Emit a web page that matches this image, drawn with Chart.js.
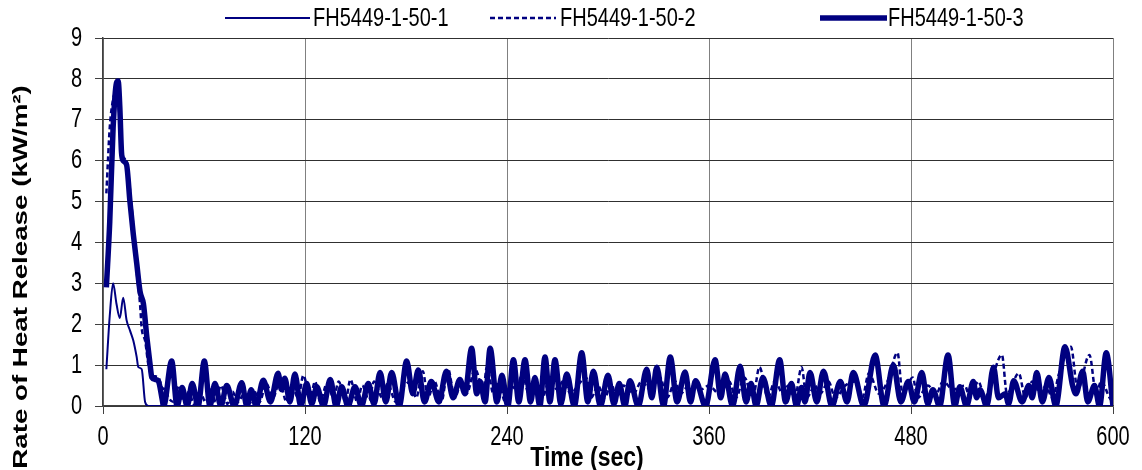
<!DOCTYPE html>
<html>
<head>
<meta charset="utf-8">
<script src="https://cdn.jsdelivr.net/npm/chart.js@4.4.0/dist/chart.umd.min.js"></script>
<style>
  html, body { margin: 0; padding: 0; background: #fff; }
  #wrap { width: 1142px; height: 470px; position: relative; }
</style>
</head>
<body>
<div id="wrap"><canvas id="rhr"></canvas></div>
<script>
// Rate of heat release vs time, three specimens
const seriesNames = ['FH5449-1-50-1', 'FH5449-1-50-2', 'FH5449-1-50-3'];
const xTicks = [0, 120, 240, 360, 480, 600];
const yTicks = [0, 1, 2, 3, 4, 5, 6, 7, 8, 9];

const times1 = [2, 4, 6, 8, 10, 12, 14, 16, 18, 20, 21, 23, 25, 27, 30, 600];
const rhr1   = [0.9, 2.2, 3.0, 2.5, 2.15, 2.65, 2.1, 1.85, 1.6, 1.2, 0.95, 0.9, 0.1, 0, 0, 0];

const times2 = [2, 4, 6, 8, 10, 12, 14, 16, 18, 20, 22, 23, 25, 27, 29, 33, 35, 37, 39,
  42, 45, 48, 51, 54, 57, 61, 64, 67, 70, 74, 77, 80, 84, 87, 90, 93, 97, 101, 105, 109,
  112, 116, 119, 123, 126, 129, 133, 137, 140, 144, 147, 151, 154, 158, 161, 166, 169, 174,
  178, 183, 186, 190, 193, 197, 201, 205, 209, 213, 216, 221, 226, 228, 232, 235, 239, 242,
  246, 249, 253, 258, 261, 265, 270, 273, 278, 282, 287, 290, 294, 298, 302, 305, 309, 315,
  320, 325, 331, 335, 340, 343, 348, 355, 360, 366, 372, 376, 381, 386, 390, 395, 399, 404,
  407, 411, 415, 418, 423, 426, 431, 435, 441, 448, 451, 455, 461, 466, 472, 475, 481, 484,
  490, 495, 499, 505, 512, 515, 520, 524, 527, 534, 537, 544, 548, 552, 557, 560, 564, 568,
  575, 579, 586, 590, 593, 598, 600];
const rhr2 = [5.2, 6.8, 7.5, 7.7, 7.0, 6.1, 6.0, 5.3, 4.4, 3.3, 2.5, 1.9, 1.6, 1.0, 0.75, 0.7, 0.45, 0.4, 0.2,
  0.1, 0.5, 0.1, 0.35, 0.05, 0.4, 0.1, 0.45, 0.1, 0.5, 0.05, 0.35, 0.1, 0.3, 0.05, 0.35, 0.1, 0.55, 0.2, 0.6, 0.1,
  0.5, 0.2, 0.75, 0.2, 0.6, 0.1, 0.55, 0.2, 0.6, 0.1, 0.65, 0.1, 0.5, 0.15, 0.6, 0.2, 0.55, 0.1,
  0.45, 0.6, 0.2, 0.85, 0.2, 0.6, 0.1, 0.9, 0.2, 0.6, 0.3, 0.9, 0.4, 0.95, 0.3, 0.55, 0.1, 0.5,
  0.4, 0.8, 0.3, 0.45, 0.2, 0.6, 0.4, 0.6, 0.3, 0.5, 0.7, 0.2, 0.5, 0.2, 0.55, 0.2, 0.5, 0.3,
  0.6, 0.4, 0.7, 0.2, 0.6, 0.3, 0.5, 0.4, 0.5, 0.3, 0.6, 0.2, 0.7, 0.2, 0.95, 0.2, 0.6, 0.3,
  0.5, 0.2, 0.95, 0.2, 0.5, 0.3, 0.6, 0.2, 0.5, 0.6, 0.2, 0.8, 0.3, 0.6, 1.3, 0.3, 0.7, 0.2,
  0.5, 0.3, 0.6, 0.4, 0.5, 0.2, 0.6, 0.2, 0.5, 1.25, 0.3, 0.8, 0.2, 0.6, 0.3, 0.5, 0.2, 0.8,
  1.45, 0.4, 1.25, 0.3, 0.6, 0.2, 0.1];

const times3 = [2, 4, 6, 8, 9, 10, 11, 12, 14, 16, 18, 20, 22, 24, 26, 28, 29, 31, 33, 35,
  36, 40.8, 44, 47, 50, 53, 56.5, 60.2, 63.5, 66.5, 70, 73.5, 78, 82.4, 85.5, 88, 91, 95.2,
  99.5, 104, 106, 108, 111, 114, 117.5, 121, 124, 127, 131, 135, 138.5, 141.8, 145.5, 149.7,
  153.5, 157.6, 161, 164.6, 168, 171.5, 176, 180.4, 184, 187.3, 191, 195, 199.5, 204, 208,
  212, 215, 219, 222, 224, 227, 230, 234, 237, 240.5, 243.8, 247, 250.7, 254, 256.6, 259.5,
  262.6, 265.5, 268.5, 272, 275.5, 280, 284.4, 288, 291.3, 295.5, 300, 303.5, 306.7, 310,
  313, 318, 323, 326, 329, 333, 337, 341, 345.8, 349, 352, 358, 363.6, 367, 369.5, 374,
  378.5, 382, 385, 388, 392, 397, 402, 405.5, 409, 412, 415, 417, 420, 424, 428, 433, 438,
  442, 445.7, 452, 458.7, 464, 469.5, 474, 478.4, 482, 486.4, 490, 493, 497, 502, 506, 509,
  513, 517, 519, 521, 525, 529, 532, 536, 538, 541, 546, 550, 552, 554.7, 558, 562, 566,
  571.5, 576, 578, 582, 585, 589, 592, 596, 600];
const rhr3 = [2.9, 4.5, 6.8, 7.9, 7.95, 7.3, 6.2, 6.0, 5.9, 5.0, 4.2, 3.5, 2.8, 2.5, 1.7, 1.0, 0.7, 0.65, 0.6, 0.2,
  0, 1.1, 0, 0.45, 0, 0.55, 0, 1.1, 0, 0.55, 0, 0.5, 0, 0.57, 0, 0.4, 0, 0.63,
  0.1, 0.8, 0.4, 0.68, 0.1, 0.78, 0, 0.55, 0.05, 0.47, 0, 0.65, 0, 0.47, 0, 0.47,
  0, 0.55, 0.05, 0.82, 0.1, 0.82, 0, 1.1, 0.3, 0.88, 0.1, 0.6, 0.1, 0.85, 0.2,
  0.65, 0.3, 1.41, 0.3, 0.6, 0.1, 1.41, 0.1, 0.75, 0, 1.13, 0.1, 1.13, 0.1, 0.7, 0,
  1.2, 0.1, 1.13, 0.05, 0.78, 0, 1.3, 0.1, 0.85, 0, 0.75, 0.05, 0.55, 0,
  0.62, 0, 0.9, 0.2, 0.95, 0, 1.2, 0.1, 0.83, 0.1, 0.62, 0, 1.13, 0.2, 0.78, 0,
  0.97, 0.1, 0.55, 0, 0.7, 0, 1.13, 0.1, 0.55, 0, 0.45, 0.1, 0.82, 0.1, 0.85, 0, 0.6,
  0.1, 0.82, 0, 1.25, 0, 1.0, 0.1, 0.6, 0.1, 0.82, 0.05, 0.4, 0, 1.25, 0, 0.47,
  0, 0.6, 0.2, 0.4, 0, 0.95, 0.2, 0.3, 0.05, 0.62, 0.1, 0.5, 0.2, 0.82, 0.1, 0.7, 0,
  1.45, 0.5, 0.3, 0.85, 0.1, 0.5, 0, 1.3, 0];

const NAVY = '#000080';
const FONT = '"Liberation Sans", Arial, sans-serif';

function pts(xs, ys) { return xs.map((x, i) => ({ x: x, y: ys[i] })); }

const styles = [
  { borderWidth: 2, borderDash: [] },
  { borderWidth: 2.5, borderDash: [5, 3] },
  { borderWidth: 5.5, borderDash: [] },
];
const dataArr = [pts(times1, rhr1), pts(times2, rhr2), pts(times3, rhr3)];

// the original picture is stretched vertically, so text is drawn tall and narrow
function tallText(c, txt, x, y, font, sy) {
  c.save();
  c.translate(x, y);
  c.scale(1, sy);
  c.font = font;
  c.fillText(txt, 0, 0);
  c.restore();
}

// legend, tick labels and axis titles drawn by hand (stretched like the original)
const extras = {
  id: 'extras',
  afterDraw(chart) {
    const c = chart.ctx;
    const xs = chart.scales.x, ys = chart.scales.y;
    c.save();
    c.fillStyle = '#000';
    c.textBaseline = 'middle';

    c.textAlign = 'center';
    xTicks.forEach(v => tallText(c, String(v), xs.getPixelForValue(v), 437, '20px ' + FONT, 1.4));
    c.textAlign = 'right';
    yTicks.forEach(v => tallText(c, String(v), 82, ys.getPixelForValue(v), '20px ' + FONT, 1.4));

    const items = [
      { x0: 225, x1: 310, tx: 313 },
      { x0: 490, x1: 556, tx: 560 },
      { x0: 820, x1: 887, tx: 888 },
    ];
    const ly = 18;
    items.forEach((it, i) => {
      c.strokeStyle = NAVY;
      c.lineWidth = styles[i].borderWidth;
      c.setLineDash(styles[i].borderDash);
      c.beginPath(); c.moveTo(it.x0, ly); c.lineTo(it.x1, ly); c.stroke();
      c.setLineDash([]);
      c.textAlign = 'left';
      tallText(c, seriesNames[i], it.tx, ly + 1, '20px ' + FONT, 1.3);
    });
    c.textAlign = 'center';
    tallText(c, 'Time (sec)', 587, 458, 'bold 23px ' + FONT, 1.2);
    c.translate(21, 277);
    c.rotate(-Math.PI / 2);
    c.scale(1.32, 1);
    c.font = 'bold 21px ' + FONT;
    c.fillText('Rate of Heat Release (kW/m\u00b2)', 0, 0);
    c.restore();
  }
};

new Chart(document.getElementById('rhr'), {
  type: 'line',
  data: {
    datasets: dataArr.map((d, i) => ({
      label: seriesNames[i],
      data: d,
      borderColor: NAVY,
      backgroundColor: NAVY,
      borderWidth: styles[i].borderWidth,
      borderDash: styles[i].borderDash,
      pointRadius: 0,
      cubicInterpolationMode: 'monotone',
      fill: false,
      order: [2, 1, 0][i],
    }))
  },
  options: {
    responsive: true, maintainAspectRatio: false, animation: false,
    layout: { padding: { left: 0, right: 29, top: 38, bottom: 0 } },
    plugins: { legend: { display: false }, tooltip: { enabled: false } },
    scales: {
      x: {
        type: 'linear', min: 0, max: 600,
        afterBuildTicks: s => { s.ticks = xTicks.map(v => ({ value: v })); },
        afterFit: s => { s.height = 64; },
        grid: { color: '#808080', lineWidth: 1, tickLength: 8, drawTicks: true, tickColor: '#404040' },
        border: { color: '#404040', width: 1.5 },
        ticks: { display: false },
      },
      y: {
        min: 0, max: 9,
        afterBuildTicks: s => { s.ticks = yTicks.map(v => ({ value: v })); },
        afterFit: s => { s.width = 103; },
        grid: { color: '#303030', lineWidth: 1, tickLength: 8, tickColor: '#404040' },
        border: { color: '#404040', width: 1.5 },
        ticks: { display: false },
      }
    }
  },
  plugins: [extras]
});
</script>
</body>
</html>
